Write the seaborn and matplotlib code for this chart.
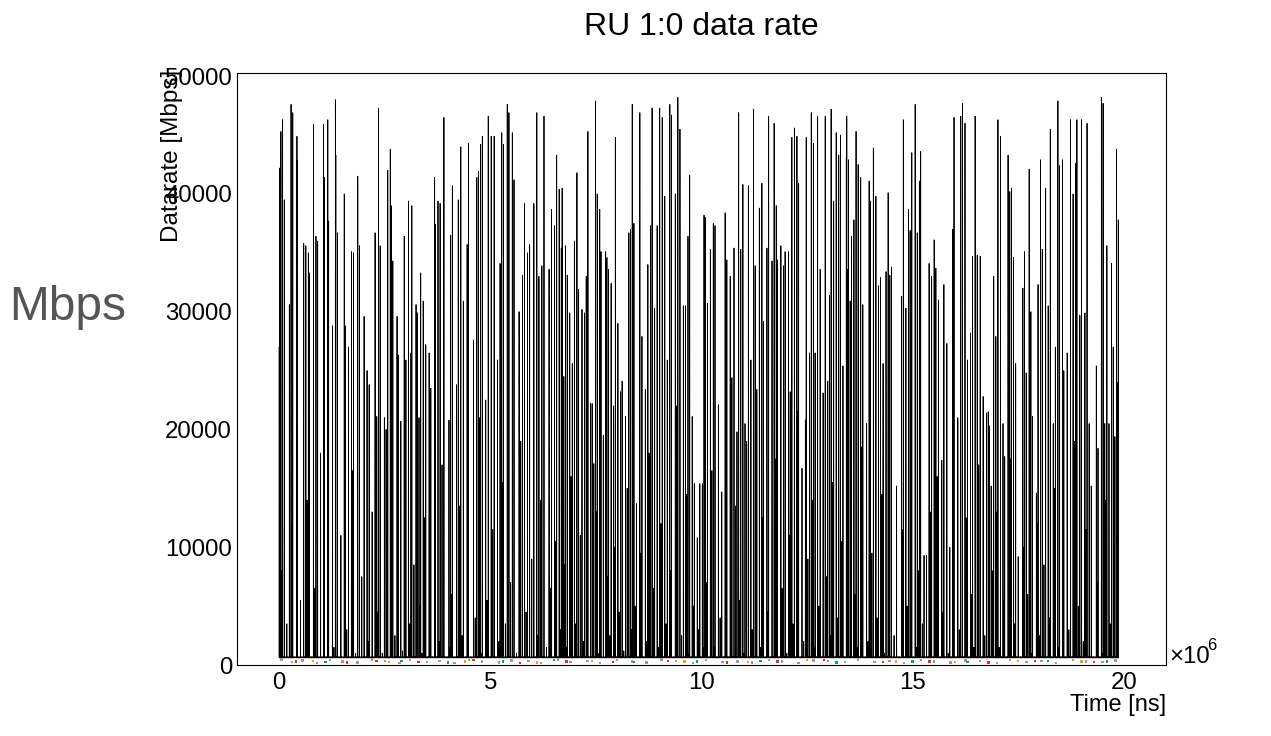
import numpy as np
import pandas as pd
import matplotlib
matplotlib.use("Agg")
import matplotlib.pyplot as plt
import seaborn as sns
from matplotlib.ticker import MultipleLocator, FuncFormatter

sns.set_theme(style="white")
plt.rcParams['font.family'] = ['Liberation Sans', 'DejaVu Sans']
plt.rcParams['text.color'] = 'black'
plt.rcParams['axes.labelcolor'] = 'black'
plt.rcParams['xtick.color'] = 'black'
plt.rcParams['ytick.color'] = 'black'

TITLE = "RU 1:0 data rate"
Y_LABEL = "Datarate [Mbps]"
X_LABEL = "Time [ns]"
SIDE_LABEL = "Mbps"
T_END = 19.87               # last sample time (1e6 ns)
IDLE_RATE = 680             # floor level between bursts (Mbps)
BURST_HALF_WIDTH = 0.002    # burst half-duration (1e6 ns)

# burst times (1e6 ns) and peak values (thousands of Mbps), read left to right
times_1 = [0.0, 0.01, 0.04, 0.08, 0.12, 0.24, 0.28, 0.32, 0.42, 0.43, 0.58, 0.63, 0.69, 0.71, 0.81, 0.87,
           0.91, 1.05, 1.07, 1.15, 1.17, 1.26, 1.33, 1.34, 1.38, 1.54, 1.56, 1.64, 1.71, 1.76, 1.86, 1.90,
           2.01, 2.08, 2.13, 2.27, 2.31, 2.35, 2.39, 2.49, 2.57, 2.63, 2.65, 2.69, 2.79, 2.82, 2.88, 2.96,
           3.00, 3.06, 3.12, 3.14, 3.24]
peaks_1 = [27.0, 42.2, 45.3, 46.3, 39.5, 30.6, 47.6, 46.9, 44.9, 42.8, 35.8, 35.6, 35.0, 33.3, 45.9, 36.4,
           36.0, 45.9, 41.4, 46.3, 37.7, 28.8, 48.0, 43.3, 36.7, 40.0, 28.8, 27.0, 35.1, 35.0, 41.5, 35.6,
           29.6, 25.0, 23.8, 36.7, 21.1, 47.3, 35.6, 21.0, 42.0, 43.8, 39.0, 34.3, 29.6, 26.3, 20.7, 36.4,
           25.9, 39.4, 26.5, 39.0, 30.6]
times_2 = [3.27, 3.31, 3.35, 3.41, 3.47, 3.55, 3.59, 3.68, 3.70, 3.76, 3.81, 3.90, 4.02, 4.06, 4.10, 4.20,
           4.24, 4.30, 4.36, 4.45, 4.48, 4.60, 4.68, 4.72, 4.77, 4.81, 4.89, 4.95, 5.02, 5.09, 5.17, 5.23,
           5.27, 5.31, 5.40, 5.44, 5.52, 5.56, 5.68, 5.76, 5.81, 5.88, 5.93, 6.03, 6.10, 6.15, 6.22, 6.27,
           6.39, 6.45, 6.52, 6.57, 6.63, 6.68]
peaks_2 = [29.9, 21.0, 33.3, 30.9, 27.2, 26.5, 23.5, 41.4, 37.4, 39.4, 39.2, 46.5, 20.8, 36.5, 40.7, 23.8,
           39.5, 44.0, 30.9, 35.7, 44.3, 27.6, 41.4, 41.9, 44.2, 44.9, 22.5, 46.6, 44.9, 44.9, 25.9, 34.1,
           45.2, 44.2, 47.6, 46.9, 45.2, 41.2, 30.0, 33.1, 39.2, 35.0, 35.7, 39.2, 46.9, 33.0, 33.9, 46.6,
           33.6, 38.7, 37.3, 43.3, 40.4, 35.4]
times_3 = [6.70, 6.74, 6.78, 6.82, 6.88, 6.94, 6.99, 7.05, 7.09, 7.17, 7.23, 7.27, 7.31, 7.37, 7.41, 7.45,
           7.49, 7.53, 7.59, 7.62, 7.73, 7.76, 7.80, 7.86, 7.92, 7.96, 8.02, 8.08, 8.12, 8.20, 8.28, 8.32,
           8.36, 8.40, 8.46, 8.54, 8.59, 8.67, 8.73, 8.79, 8.83, 8.89, 8.95, 9.01, 9.07, 9.13, 9.19, 9.25,
           9.29, 9.38, 9.44, 9.49, 9.57, 9.62, 9.68, 9.72, 9.78, 9.83, 9.90, 9.96, 10.02, 10.06]
peaks_3 = [40.5, 24.5, 35.6, 33.1, 29.9, 25.6, 36.0, 41.8, 31.9, 30.2, 29.9, 33.0, 45.3, 22.2, 22.2, 17.1,
           47.9, 40.0, 38.7, 35.1, 35.1, 34.6, 33.6, 32.4, 22.0, 44.8, 29.0, 23.2, 24.1, 21.1, 36.7, 37.0,
           47.6, 37.5, 13.7, 46.9, 27.9, 23.4, 34.0, 37.3, 47.3, 30.3, 37.3, 47.3, 46.5, 39.8, 25.9, 47.6,
           46.7, 40.0, 48.2, 45.5, 30.5, 30.5, 36.4, 41.6, 21.1, 15.4, 10.8, 15.4, 15.4, 38.2]
times_4 = [10.09, 10.14, 10.21, 10.28, 10.32, 10.40, 10.48, 10.56, 10.60, 10.68, 10.72, 10.77, 10.84,
           10.88, 10.93, 10.98, 11.03, 11.11, 11.17, 11.23, 11.27, 11.31, 11.37, 11.43, 11.47, 11.55,
           11.59, 11.67, 11.72, 11.77, 11.80, 11.88, 11.94, 11.98, 12.06, 12.10, 12.14, 12.20, 12.26,
           12.30, 12.38, 12.46, 12.48, 12.56, 12.60, 12.65, 12.69, 12.75, 12.81, 12.88, 12.93, 12.99,
           13.03, 13.07, 13.13, 13.19, 13.25, 13.29, 13.35, 13.43, 13.47]
peaks_4 = [38.0, 30.7, 35.3, 37.5, 37.3, 22.1, 14.7, 38.4, 34.4, 33.0, 24.4, 35.4, 19.8, 46.9, 35.3, 40.8,
           20.5, 40.7, 25.9, 47.2, 33.9, 23.4, 38.8, 40.9, 29.2, 35.4, 46.6, 34.3, 46.0, 39.0, 34.4, 35.6,
           33.9, 35.1, 35.1, 23.2, 44.8, 45.6, 44.9, 40.9, 16.7, 20.8, 44.8, 26.5, 46.9, 44.3, 26.5, 46.6,
           33.6, 23.1, 46.6, 24.1, 31.4, 47.2, 39.4, 45.2, 43.3, 45.0, 25.4, 43.1, 33.6]
times_5 = [13.44, 13.48, 13.52, 13.55, 13.61, 13.66, 13.71, 13.77, 13.82, 13.91, 13.97, 14.00, 14.07,
           14.13, 14.19, 14.24, 14.30, 14.37, 14.42, 14.46, 14.50, 14.62, 14.74, 14.78, 14.84, 14.90,
           14.94, 14.98, 15.06, 15.11, 15.16, 15.19, 15.27, 15.33, 15.39, 15.45, 15.51, 15.55, 15.61,
           15.69, 15.74, 15.81, 15.88, 15.95, 15.98, 16.07, 16.14, 16.18, 16.24, 16.30, 16.37, 16.42,
           16.48, 16.53, 16.60, 16.67, 16.75, 16.79]
peaks_5 = [46.6, 42.9, 30.9, 36.4, 37.8, 45.3, 42.5, 41.4, 30.6, 20.5, 41.1, 39.4, 43.9, 39.8, 32.2, 32.9,
           25.6, 33.4, 40.1, 33.1, 33.8, 15.2, 31.3, 46.3, 30.3, 38.7, 36.9, 43.5, 47.6, 36.7, 41.1, 43.6,
           9.3, 9.3, 34.1, 33.0, 36.1, 33.7, 31.0, 17.4, 32.3, 27.3, 10.0, 37.0, 46.5, 21.0, 46.6, 47.7,
           46.0, 25.9, 28.2, 34.7, 46.6, 34.8, 34.7, 22.8, 21.4, 21.5]
times_6 = [16.82, 16.86, 16.92, 16.97, 17.02, 17.08, 17.14, 17.18, 17.26, 17.30, 17.34, 17.39, 17.44,
           17.50, 17.61, 17.65, 17.69, 17.76, 17.80, 17.84, 17.93, 17.97, 18.03, 18.07, 18.15, 18.21,
           18.26, 18.33, 18.38, 18.44, 18.48, 18.55, 18.58, 18.66, 18.74, 18.80, 18.86, 18.89, 18.96,
           19.00, 19.08, 19.13, 19.18, 19.23, 19.35, 19.39, 19.47, 19.51, 19.55, 19.60, 19.65, 19.71,
           19.75, 19.79, 19.83, 19.87]
peaks_6 = [20.3, 15.2, 33.0, 27.9, 46.3, 44.9, 20.5, 17.7, 43.3, 40.2, 40.5, 34.6, 25.6, 9.2, 32.0, 35.1,
           24.8, 42.1, 30.0, 21.1, 14.6, 32.3, 42.9, 35.3, 40.5, 30.5, 45.5, 20.5, 27.0, 47.9, 42.4, 42.9,
           25.0, 26.5, 46.3, 40.0, 42.6, 46.3, 29.7, 46.3, 29.9, 46.0, 20.5, 15.2, 25.4, 18.4, 48.2, 47.7,
           20.5, 35.6, 20.5, 34.1, 27.0, 19.4, 43.8, 37.8]

# smaller bursts between consecutive large ones (thousands of Mbps)
minor_1 = [21.0, 1.2, 8.0, 0.7, 3.5, 0.7, 12.0, 0.7, 2.0, 5.5, 0.7, 14.0, 1.0, 0.7, 6.5, 0.7, 18.0, 2.5,
           0.7, 9.0, 0.7, 1.5, 4.0, 0.7, 11.0, 0.7, 3.0, 0.7, 16.5, 1.0, 0.7, 7.5, 0.7, 2.0, 13.0, 0.7,
           4.5, 0.7, 1.0, 20.0, 0.7, 6.0, 0.7, 2.5, 10.0, 0.7, 1.2, 15.0, 0.7, 3.5, 0.7, 8.5, 0.7]
minor_2 = [0.7, 5.0, 1.0, 12.5, 0.7, 3.0, 0.7, 9.5, 0.7, 2.0, 17.0, 0.7, 1.5, 6.0, 0.7, 0.7, 13.5, 2.5,
           0.7, 8.0, 0.7, 4.0, 0.7, 21.0, 1.0, 0.7, 5.5, 0.7, 11.5, 0.7, 2.0, 0.7, 15.5, 3.5, 0.7, 7.0,
           0.7, 1.0, 19.0, 0.7, 4.5, 0.7, 9.0, 0.7, 2.5, 14.0, 0.7, 1.5, 6.5, 0.7, 10.5, 0.7, 3.0, 0.7]
minor_3 = [0.7, 8.5, 1.5, 0.7, 16.0, 0.7, 3.5, 0.7, 11.0, 2.0, 0.7, 6.0, 0.7, 0.7, 4.0, 0.7, 13.0, 1.0,
           0.7, 19.5, 0.7, 7.5, 2.5, 0.7, 10.0, 0.7, 4.5, 0.7, 1.2, 15.0, 0.7, 3.0, 0.7, 5.0, 0.7, 9.5,
           0.7, 2.0, 18.0, 0.7, 6.5, 0.7, 1.5, 12.0, 0.7, 3.5, 0.7, 8.0, 0.7, 22.0, 0.7, 2.5, 0.7, 14.5,
           1.0, 0.7, 5.0, 0.7, 3.0, 0.7, 1.5, 0.7]
minor_4 = [7.0, 0.7, 16.5, 1.5, 0.7, 4.0, 0.7, 10.0, 0.7, 2.5, 0.7, 13.5, 0.7, 5.5, 0.7, 1.0, 19.0, 0.7,
           3.0, 0.7, 8.5, 0.7, 1.5, 12.5, 0.7, 4.5, 0.7, 0.7, 17.5, 2.0, 0.7, 6.5, 0.7, 1.0, 11.0, 0.7,
           3.5, 0.7, 21.5, 0.7, 2.0, 0.7, 9.0, 0.7, 14.0, 1.5, 0.7, 5.0, 0.7, 0.7, 7.5, 0.7, 2.5, 15.5,
           0.7, 4.0, 0.7, 10.5, 0.7, 1.0, 0.7]
minor_5 = [3.0, 0.7, 12.0, 0.7, 6.0, 1.5, 0.7, 18.5, 0.7, 2.0, 0.7, 9.5, 0.7, 4.0, 0.7, 14.5, 1.0, 0.7,
           7.0, 0.7, 2.5, 0.7, 11.5, 0.7, 5.0, 0.7, 20.5, 0.7, 1.5, 8.0, 0.7, 3.5, 0.7, 0.7, 13.0, 0.7,
           2.0, 16.0, 0.7, 4.5, 0.7, 1.0, 0.7, 9.0, 0.7, 3.0, 0.7, 0.7, 12.5, 0.7, 6.0, 1.5, 0.7, 17.0,
           0.7, 2.5, 0.7, 4.0]
minor_6 = [0.7, 8.0, 0.7, 13.0, 1.5, 0.7, 5.5, 0.7, 2.0, 17.5, 0.7, 3.5, 0.7, 0.7, 10.0, 0.7, 6.0, 0.7,
           1.0, 0.7, 12.0, 2.5, 0.7, 8.5, 0.7, 4.0, 0.7, 15.0, 0.7, 1.5, 0.7, 9.5, 0.7, 3.0, 0.7, 19.0,
           0.7, 5.0, 0.7, 2.0, 11.5, 0.7, 0.7, 0.7, 7.0, 0.7, 1.0, 0.7, 14.0, 0.7, 3.5, 0.7, 6.0, 0.7,
           24.0]

# other RUs: small rates near zero (time in 1e6 ns, rate in Mbps)
gray_t = [0.05, 0.3, 0.55, 0.9, 1.2, 1.5, 1.85, 2.2, 2.5, 2.85, 3.1, 3.5, 3.8, 4.15, 4.5, 4.8, 5.2, 5.5,
          5.9, 6.2, 6.6, 6.9, 7.3, 7.6, 8.0, 8.35, 8.7, 9.05, 9.4, 9.8, 10.1, 10.5, 10.85, 11.2, 11.6,
          11.9, 12.3, 12.65, 13.0, 13.4, 13.7, 14.1, 14.45, 14.8, 15.2, 15.5, 15.9, 16.25, 16.6, 17.0,
          17.3, 17.7, 18.05, 18.4, 18.8, 19.1, 19.5, 19.8]
gray_v = [450, 250, 380, 150, 420, 300, 200, 460, 350, 180, 400, 260, 330, 150, 440, 280, 210, 390, 320,
          170, 450, 240, 360, 190, 410, 300, 220, 470, 340, 160, 400, 270, 310, 200, 430, 290, 180, 380,
          350, 230, 460, 260, 320, 170, 420, 300, 210, 390, 340, 190, 440, 250, 360, 180, 410, 290, 230, 380]
red_t = [0.4, 1.6, 2.3, 3.3, 4.6, 5.7, 6.8, 7.9, 9.2, 10.6, 11.8, 12.9, 14.3, 15.4, 16.8, 17.9, 19.3]
red_v = [300, 200, 350, 250, 400, 150, 300, 250, 350, 200, 300, 400, 250, 300, 200, 350, 250]
green_t = [1.1, 2.9, 4.0, 5.3, 6.5, 8.4, 9.9, 11.4, 13.2, 15.0, 16.3, 18.2, 19.6]
green_v = [250, 350, 200, 300, 400, 250, 300, 350, 200, 300, 250, 350, 300]
orange_t = [0.8, 2.6, 4.4, 6.1, 7.4, 9.6, 11.1, 12.5, 14.6, 16.0, 17.5, 19.0]
orange_v = [350, 250, 300, 200, 350, 300, 250, 400, 300, 250, 350, 300]

# ---------------------------------------------------------------- data frames
big_t = times_1 + times_2 + times_3 + times_4 + times_5 + times_6
big_h = peaks_1 + peaks_2 + peaks_3 + peaks_4 + peaks_5 + peaks_6
minor_h = minor_1 + minor_2 + minor_3 + minor_4 + minor_5 + minor_6
events = list(zip(big_t, big_h))
for i, h in enumerate(minor_h[:len(big_t) - 1]):
    events.append(((big_t[i] + big_t[i + 1]) / 2.0, h))
events.sort(key=lambda e: e[0])

tt, rr = [], []
for t, h in events:
    tt += [t - BURST_HALF_WIDTH, t, t + BURST_HALF_WIDTH]
    rr += [IDLE_RATE, h * 1000.0, IDLE_RATE]
main_df = pd.DataFrame({"time": np.array(tt) * 1e6, "rate": rr})
idle_df = pd.DataFrame({"time": [0.0, T_END * 1e6], "rate": [IDLE_RATE, IDLE_RATE]})

dots = []
for name, ts, vs in [("gray", gray_t, gray_v), ("red", red_t, red_v),
                     ("green", green_t, green_v), ("orange", orange_t, orange_v)]:
    for t, v in zip(ts, vs):
        dots.append({"time": t * 1e6, "rate": v, "ru": name})
dots_df = pd.DataFrame(dots)
palette = {"gray": "#9a9a9a", "red": "#ee2a1b", "green": "#12a84a", "orange": "#f29a1d"}

# ---------------------------------------------------------------- figure
W, H = 1271, 736
fig = plt.figure(figsize=(W / 100, H / 100), dpi=100)
fig.patch.set_facecolor("white")
L, R, T, B = 237, 1166, 73, 665
ax = fig.add_axes([L / W, 1 - B / H, (R - L) / W, (B - T) / H])
ax.set_facecolor("white")

sns.lineplot(data=main_df, x="time", y="rate", color="black", linewidth=0.6,
             estimator=None, sort=False, ax=ax)
sns.lineplot(data=idle_df, x="time", y="rate", color="black", linewidth=1.0,
             estimator=None, ax=ax)
sns.scatterplot(data=dots_df, x="time", y="rate", hue="ru", palette=palette,
                s=3, marker="s", linewidth=0, legend=False, ax=ax, zorder=3)

ax.set_xlim(-1.0e6, 21.0e6)
ax.set_ylim(0, 50270)

for sp in ax.spines.values():
    sp.set_visible(True)
    sp.set_color("black")
    sp.set_linewidth(0.8)

ax.xaxis.set_major_locator(MultipleLocator(5e6))
ax.xaxis.set_minor_locator(MultipleLocator(1e6))
ax.yaxis.set_major_locator(MultipleLocator(10000))
ax.yaxis.set_minor_locator(MultipleLocator(2000))
ax.xaxis.set_major_formatter(FuncFormatter(lambda v, p: f"{v / 1e6:g}"))
ax.yaxis.set_major_formatter(FuncFormatter(lambda v, p: f"{int(round(v))}"))

ax.tick_params(axis="both", which="both", direction="in", color="black", width=0.8,
               top=False, right=False, labelsize=17.3, labelcolor="black")
ax.tick_params(axis="y", which="major", length=19.5, pad=3.6)
ax.tick_params(axis="y", which="minor", length=9.7)
ax.tick_params(axis="x", which="major", length=12.8, pad=5)
ax.tick_params(axis="x", which="minor", length=6.4)

ax.set_ylabel(Y_LABEL, fontsize=17.5, loc="top")
ax.yaxis.set_label_coords(-0.058, 1.005)
ax.set_xlabel(X_LABEL, fontsize=17, loc="right")
ax.xaxis.set_label_coords(1.0, -(705 - B) / (B - T))
ax.xaxis.label.set_verticalalignment("center")

fig.text(1169 / W, 1 - 657 / H, "×10", ha="left", va="center", fontsize=17.3)
fig.text(1207 / W, 1 - 645 / H, "6", ha="left", va="center", fontsize=12)
fig.text(701.5 / W, 1 - 27 / H, TITLE, ha="center", va="center", fontsize=23)
fig.text(68 / W, 1 - 307 / H, SIDE_LABEL, ha="center", va="center", fontsize=34.5,
         color="#555555")

fig.savefig("out.png", dpi=100, facecolor="white")
